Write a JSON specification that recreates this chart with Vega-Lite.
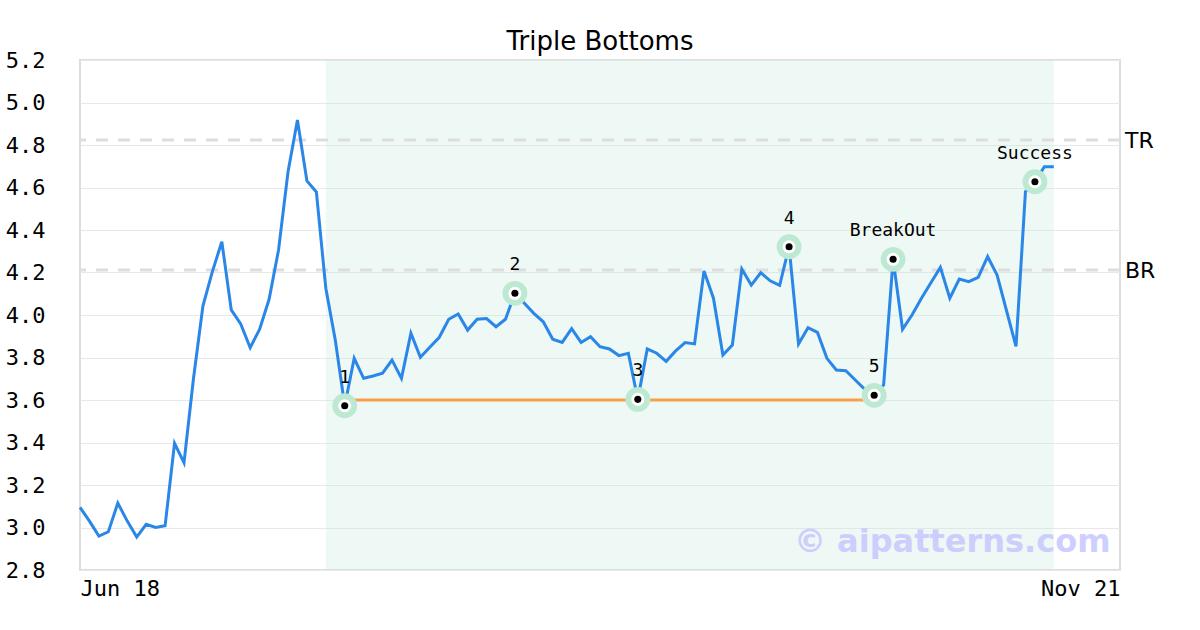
{
  "$schema": "https://vega.github.io/schema/vega-lite/v6.json",
  "width": 1040,
  "height": 510,
  "autosize": {"type": "none"},
  "padding": {"left": 80, "top": 60, "right": 80, "bottom": 60},
  "background": "white",
  "title": {"text": "Triple Bottoms", "font": "DejaVu Sans", "fontSize": 26, "fontWeight": "normal", "color": "#000000", "offset": -6},
  "config": {
    "view": {"stroke": "#dddddd", "strokeWidth": 2},
    "axis": {"labelColor": "#000000", "labelFont": "DejaVu Sans Mono", "labelFontSize": 22, "ticks": false, "domain": false, "title": null}
  },
  "datasets": {
    "series": [
      {"i":0,"v":3.095},{"i":1,"v":3.03},{"i":2,"v":2.96},{"i":3,"v":2.98},{"i":4,"v":3.115},{"i":5,"v":3.03},{"i":6,"v":2.955},{"i":7,"v":3.015},{"i":8,"v":3.0},{"i":9,"v":3.008},
      {"i":10,"v":3.396},{"i":11,"v":3.305},{"i":12,"v":3.70},{"i":13,"v":4.042},{"i":14,"v":4.204},{"i":15,"v":4.345},{"i":16,"v":4.024},{"i":17,"v":3.958},{"i":18,"v":3.846},{"i":19,"v":3.933},
      {"i":20,"v":4.074},{"i":21,"v":4.306},{"i":22,"v":4.673},{"i":23,"v":4.918},{"i":24,"v":4.631},{"i":25,"v":4.579},{"i":26,"v":4.126},{"i":27,"v":3.882},{"i":28,"v":3.573},{"i":29,"v":3.796},
      {"i":30,"v":3.702},{"i":31,"v":3.713},{"i":32,"v":3.726},{"i":33,"v":3.788},{"i":34,"v":3.702},{"i":35,"v":3.914},{"i":36,"v":3.801},{"i":37,"v":3.848},{"i":38,"v":3.895},{"i":39,"v":3.98},
      {"i":40,"v":4.005},{"i":41,"v":3.929},{"i":42,"v":3.98},{"i":43,"v":3.983},{"i":44,"v":3.945},{"i":45,"v":3.98},{"i":46,"v":4.102},{"i":47,"v":4.055},{"i":48,"v":4.008},{"i":49,"v":3.968},
      {"i":50,"v":3.886},{"i":51,"v":3.871},{"i":52,"v":3.936},{"i":53,"v":3.871},{"i":54,"v":3.898},{"i":55,"v":3.851},{"i":56,"v":3.84},{"i":57,"v":3.809},{"i":58,"v":3.82},{"i":59,"v":3.603},
      {"i":60,"v":3.84},{"i":61,"v":3.82},{"i":62,"v":3.782},{"i":63,"v":3.831},{"i":64,"v":3.87},{"i":65,"v":3.864},{"i":66,"v":4.207},{"i":67,"v":4.079},{"i":68,"v":3.812},{"i":69,"v":3.859},
      {"i":70,"v":4.216},{"i":71,"v":4.141},{"i":72,"v":4.199},{"i":73,"v":4.161},{"i":74,"v":4.14},{"i":75,"v":4.321},{"i":76,"v":3.864},{"i":77,"v":3.94},{"i":78,"v":3.918},{"i":79,"v":3.796},
      {"i":80,"v":3.741},{"i":81,"v":3.738},{"i":82,"v":3.694},{"i":83,"v":3.65},{"i":84,"v":3.622},{"i":85,"v":3.671},{"i":86,"v":4.262},{"i":87,"v":3.933},{"i":88,"v":4.0},{"i":89,"v":4.079},
      {"i":90,"v":4.152},{"i":91,"v":4.224},{"i":92,"v":4.079},{"i":93,"v":4.169},{"i":94,"v":4.157},{"i":95,"v":4.177},{"i":96,"v":4.275},{"i":97,"v":4.188},{"i":98,"v":4.02},{"i":99,"v":3.852},
      {"i":100,"v":4.58},{"i":101,"v":4.627},{"i":102,"v":4.698},{"i":103,"v":4.698}
    ],
    "markers": [
      {"i":28,"v":3.573,"label":"1"},
      {"i":46,"v":4.102,"label":"2"},
      {"i":59,"v":3.603,"label":"3"},
      {"i":75,"v":4.321,"label":"4"},
      {"i":84,"v":3.622,"label":"5"},
      {"i":86,"v":4.262,"label":"BreakOut"},
      {"i":101,"v":4.627,"label":"Success"}
    ],
    "levels": [
      {"name":"TR","v":4.824,"i":110},
      {"name":"BR","v":4.212,"i":110}
    ],
    "shade": [{"start":26,"end":103}],
    "support": [{"start":28,"end":84,"v":3.6}],
    "mark": [{"i":109,"v":2.93,"text":"© aipatterns.com"}]
  },
  "encoding": {
    "x": {"field":"i","type":"quantitative","scale":{"domain":[0,110],"nice":false,"zero":false},
          "axis":{"values":[0,110],"labelExpr":"datum.value==0?'Jun 18':'Nov 21'","labelFlush":true,"grid":false,"labelPadding":8}},
    "y": {"field":"v","type":"quantitative","scale":{"domain":[2.8,5.2],"nice":false,"zero":false},
          "axis":{"values":[2.8,3.0,3.2,3.4,3.6,3.8,4.0,4.2,4.4,4.6,4.8,5.0,5.2],"format":".1f","grid":true,"gridColor":"#e8e8e8","gridWidth":1,"labelPadding":35}}
  },
  "layer": [
    {"data":{"name":"shade"},"mark":{"type":"rect","color":"#c8e9da","opacity":0.3},
     "encoding":{"x":{"field":"start","type":"quantitative"},"x2":{"field":"end"},"y":null}},
    {"data":{"name":"levels"},"mark":{"type":"rule","color":"#dddddd","strokeWidth":3,"strokeDash":[12,10]},
     "encoding":{"x":null,"y":{"field":"v","type":"quantitative"}}},
    {"data":{"name":"levels"},"mark":{"type":"text","align":"left","baseline":"middle","dx":5,"dy":1,"font":"DejaVu Sans","fontSize":22,"color":"#000000"},
     "encoding":{"text":{"field":"name"}}},
    {"data":{"name":"support"},"mark":{"type":"rule","color":"#f7a04c","strokeWidth":3},
     "encoding":{"x":{"field":"start","type":"quantitative"},"x2":{"field":"end"}}},
    {"data":{"name":"series"},"mark":{"type":"line","color":"#2a87e8","strokeWidth":3}},
    {"data":{"name":"markers"},"mark":{"type":"circle","color":"#bde9d3","opacity":1,"size":616}},
    {"data":{"name":"markers"},"mark":{"type":"circle","color":"#ffffff","opacity":1,"size":170}},
    {"data":{"name":"markers"},"mark":{"type":"circle","color":"#000000","opacity":1,"size":50}},
    {"data":{"name":"markers"},"mark":{"type":"text","baseline":"middle","align":"center","dy":-28,"font":"DejaVu Sans Mono","fontSize":18,"color":"#000000"},
     "encoding":{"text":{"field":"label"}}},
    {"data":{"name":"mark"},"mark":{"type":"text","align":"right","baseline":"middle","font":"DejaVu Sans","fontWeight":"bold","fontSize":32,"color":"#ccccff","opacity":0.95},
     "encoding":{"text":{"field":"text"}}}
  ]
}
